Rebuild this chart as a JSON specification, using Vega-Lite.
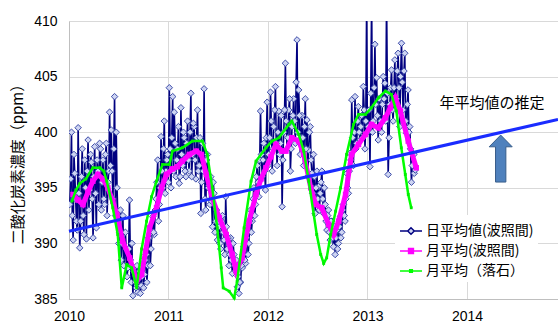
{
 "$schema": "https://vega.github.io/schema/vega-lite/v6.json",
 "width": 489, "height": 278,
 "autosize": {"type": "none"},
 "padding": {"left": 69, "top": 21, "right": 0, "bottom": 24},
 "background": "white",
 "config": {
  "view": {"stroke": null},
  "axis": {"labelFont": "Liberation Sans", "labelFontSize": 14, "labelColor": "#000", "ticks": false, "domainColor": "#bfbfbf", "gridColor": "#d9d9d9", "gridWidth": 1}
 },
 "datasets": {
  "daily": [
{"t":2010.008,"v":393.5},{"t":2010.025,"v":400.0},{"t":2010.042,"v":390.3},{"t":2010.058,"v":396.3},{"t":2010.075,"v":392.0},
{"t":2010.092,"v":400.4},{"t":2010.108,"v":389.6},{"t":2010.125,"v":396.0},{"t":2010.142,"v":392.5},{"t":2010.158,"v":397.5},
{"t":2010.175,"v":390.4},{"t":2010.192,"v":399.3},{"t":2010.208,"v":394.8},{"t":2010.225,"v":397.3},{"t":2010.242,"v":390.5},
{"t":2010.258,"v":398.7},{"t":2010.275,"v":391.4},{"t":2010.292,"v":396.5},{"t":2010.308,"v":399.0},{"t":2010.325,"v":393.0},
{"t":2010.342,"v":397.5},{"t":2010.358,"v":393.5},{"t":2010.375,"v":399.0},{"t":2010.392,"v":395.5},{"t":2010.408,"v":401.8},
{"t":2010.425,"v":400.2},{"t":2010.442,"v":394.0},{"t":2010.458,"v":403.2},{"t":2010.475,"v":400.0},{"t":2010.492,"v":392.0},
{"t":2010.508,"v":391.0},{"t":2010.525,"v":388.5},{"t":2010.542,"v":392.5},{"t":2010.558,"v":388.0},{"t":2010.575,"v":389.5},
{"t":2010.592,"v":387.8},{"t":2010.608,"v":393.9},{"t":2010.625,"v":386.5},{"t":2010.642,"v":385.3},{"t":2010.658,"v":387.5},
{"t":2010.675,"v":386.0},{"t":2010.692,"v":385.6},{"t":2010.708,"v":387.5},{"t":2010.725,"v":386.2},{"t":2010.742,"v":388.5},
{"t":2010.758,"v":387.2},{"t":2010.775,"v":389.0},{"t":2010.792,"v":388.0},{"t":2010.808,"v":390.5},{"t":2010.825,"v":389.5},
{"t":2010.842,"v":392.4},{"t":2010.858,"v":390.8},{"t":2010.875,"v":394.0},{"t":2010.892,"v":397.5},{"t":2010.908,"v":393.5},
{"t":2010.925,"v":399.6},{"t":2010.942,"v":395.0},{"t":2010.958,"v":401.0},{"t":2010.975,"v":396.5},{"t":2010.992,"v":398.0},
{"t":2011.008,"v":404.0},{"t":2011.025,"v":395.0},{"t":2011.042,"v":403.2},{"t":2011.058,"v":401.8},{"t":2011.075,"v":396.0},
{"t":2011.092,"v":398.5},{"t":2011.108,"v":395.4},{"t":2011.125,"v":402.2},{"t":2011.142,"v":397.0},{"t":2011.158,"v":399.5},
{"t":2011.175,"v":396.0},{"t":2011.192,"v":401.0},{"t":2011.208,"v":396.5},{"t":2011.225,"v":403.5},{"t":2011.242,"v":398.0},
{"t":2011.258,"v":400.5},{"t":2011.275,"v":395.8},{"t":2011.292,"v":402.0},{"t":2011.308,"v":397.0},{"t":2011.325,"v":392.7},
{"t":2011.342,"v":399.0},{"t":2011.358,"v":403.9},{"t":2011.375,"v":393.0},{"t":2011.392,"v":398.0},{"t":2011.408,"v":395.2},
{"t":2011.425,"v":396.0},{"t":2011.442,"v":391.5},{"t":2011.458,"v":394.5},{"t":2011.475,"v":392.0},{"t":2011.492,"v":390.3},
{"t":2011.508,"v":391.5},{"t":2011.525,"v":389.5},{"t":2011.542,"v":392.5},{"t":2011.558,"v":390.3},{"t":2011.575,"v":394.2},
{"t":2011.592,"v":389.5},{"t":2011.608,"v":388.0},{"t":2011.625,"v":390.5},{"t":2011.642,"v":387.3},{"t":2011.658,"v":389.0},
{"t":2011.675,"v":387.5},{"t":2011.692,"v":386.1},{"t":2011.708,"v":385.5},{"t":2011.725,"v":386.5},{"t":2011.742,"v":387.8},
{"t":2011.758,"v":389.7},{"t":2011.775,"v":388.2},{"t":2011.792,"v":391.5},{"t":2011.808,"v":390.0},{"t":2011.825,"v":393.0},
{"t":2011.842,"v":392.0},{"t":2011.858,"v":395.0},{"t":2011.875,"v":393.5},{"t":2011.892,"v":397.0},{"t":2011.908,"v":394.2},
{"t":2011.925,"v":401.9},{"t":2011.942,"v":396.0},{"t":2011.958,"v":399.0},{"t":2011.975,"v":394.8},{"t":2011.992,"v":402.7},
{"t":2012.008,"v":398.0},{"t":2012.025,"v":403.6},{"t":2012.042,"v":396.5},{"t":2012.058,"v":400.5},{"t":2012.075,"v":404.1},
{"t":2012.092,"v":397.0},{"t":2012.108,"v":401.9},{"t":2012.125,"v":399.0},{"t":2012.142,"v":393.3},{"t":2012.158,"v":400.0},
{"t":2012.175,"v":406.2},{"t":2012.192,"v":398.5},{"t":2012.208,"v":402.0},{"t":2012.225,"v":396.5},{"t":2012.242,"v":400.5},
{"t":2012.258,"v":403.0},{"t":2012.275,"v":399.0},{"t":2012.292,"v":408.3},{"t":2012.308,"v":403.8},{"t":2012.325,"v":398.0},
{"t":2012.342,"v":401.5},{"t":2012.358,"v":397.0},{"t":2012.375,"v":403.0},{"t":2012.392,"v":401.1},{"t":2012.408,"v":398.4},
{"t":2012.425,"v":400.5},{"t":2012.442,"v":396.3},{"t":2012.458,"v":398.0},{"t":2012.475,"v":392.7},{"t":2012.492,"v":396.5},
{"t":2012.508,"v":395.1},{"t":2012.525,"v":394.5},{"t":2012.542,"v":396.5},{"t":2012.558,"v":392.7},{"t":2012.575,"v":393.5},
{"t":2012.592,"v":391.2},{"t":2012.608,"v":393.0},{"t":2012.625,"v":390.3},{"t":2012.642,"v":392.0},{"t":2012.658,"v":389.7},
{"t":2012.675,"v":389.0},{"t":2012.692,"v":391.2},{"t":2012.708,"v":390.0},{"t":2012.725,"v":392.4},{"t":2012.742,"v":391.0},
{"t":2012.758,"v":393.5},{"t":2012.775,"v":392.0},{"t":2012.792,"v":396.3},{"t":2012.808,"v":394.5},{"t":2012.825,"v":398.1},
{"t":2012.842,"v":402.9},{"t":2012.858,"v":397.0},{"t":2012.875,"v":403.2},{"t":2012.892,"v":399.0},{"t":2012.908,"v":402.3},
{"t":2012.925,"v":399.3},{"t":2012.942,"v":401.5},{"t":2012.958,"v":404.1},{"t":2012.975,"v":398.5},{"t":2012.992,"v":412.0},
{"t":2013.008,"v":400.5},{"t":2013.025,"v":396.9},{"t":2013.042,"v":412.0},{"t":2013.058,"v":401.0},{"t":2013.075,"v":407.9},
{"t":2013.092,"v":404.9},{"t":2013.108,"v":399.3},{"t":2013.125,"v":403.0},{"t":2013.142,"v":400.0},{"t":2013.158,"v":405.0},
{"t":2013.175,"v":404.4},{"t":2013.192,"v":412.0},{"t":2013.208,"v":396.2},{"t":2013.225,"v":402.5},{"t":2013.242,"v":405.6},
{"t":2013.258,"v":401.0},{"t":2013.275,"v":406.5},{"t":2013.292,"v":403.0},{"t":2013.308,"v":407.1},{"t":2013.325,"v":400.5},
{"t":2013.342,"v":408.0},{"t":2013.358,"v":402.0},{"t":2013.375,"v":407.1},{"t":2013.392,"v":399.9},{"t":2013.408,"v":403.8},
{"t":2013.425,"v":400.5},{"t":2013.442,"v":395.5},{"t":2013.458,"v":398.1},{"t":2013.470,"v":396.3},{"t":2013.480,"v":396.6},
{"t":2010.017,"v":395.8},{"t":2010.033,"v":392.5},{"t":2010.050,"v":398.0},{"t":2010.067,"v":394.0},{"t":2010.083,"v":391.2},
{"t":2010.100,"v":394.5},{"t":2010.117,"v":392.0},{"t":2010.133,"v":398.5},{"t":2010.150,"v":390.8},{"t":2010.167,"v":395.0},
{"t":2010.183,"v":396.5},{"t":2010.200,"v":393.0},{"t":2010.217,"v":398.0},{"t":2010.233,"v":394.0},{"t":2010.250,"v":396.0},
{"t":2010.267,"v":394.5},{"t":2010.283,"v":397.5},{"t":2010.300,"v":393.5},{"t":2010.317,"v":398.5},{"t":2010.333,"v":395.5},
{"t":2010.350,"v":394.0},{"t":2010.367,"v":398.0},{"t":2010.383,"v":392.5},{"t":2010.400,"v":396.5},{"t":2010.417,"v":397.0},
{"t":2010.433,"v":396.5},{"t":2010.450,"v":398.5},{"t":2010.467,"v":392.5},{"t":2010.483,"v":395.0},{"t":2010.500,"v":390.0},
{"t":2010.517,"v":393.0},{"t":2010.533,"v":390.0},{"t":2010.550,"v":388.0},{"t":2010.567,"v":391.0},{"t":2010.583,"v":387.0},
{"t":2010.600,"v":389.5},{"t":2010.617,"v":388.5},{"t":2010.633,"v":390.0},{"t":2010.650,"v":387.5},{"t":2010.667,"v":386.5},
{"t":2010.683,"v":388.0},{"t":2010.700,"v":386.8},{"t":2010.717,"v":385.5},{"t":2010.733,"v":387.0},{"t":2010.750,"v":386.0},
{"t":2010.767,"v":388.5},{"t":2010.783,"v":386.5},{"t":2010.800,"v":390.5},{"t":2010.817,"v":388.0},{"t":2010.833,"v":391.0},
{"t":2010.850,"v":391.0},{"t":2010.867,"v":393.0},{"t":2010.883,"v":395.5},{"t":2010.900,"v":392.0},{"t":2010.917,"v":395.0},
{"t":2010.933,"v":396.5},{"t":2010.950,"v":398.5},{"t":2010.967,"v":394.5},{"t":2010.983,"v":397.5},{"t":2010.999,"v":395.5},
{"t":2011.017,"v":398.5},{"t":2011.033,"v":399.5},{"t":2011.050,"v":396.5},{"t":2011.067,"v":399.0},{"t":2011.083,"v":397.5},
{"t":2011.100,"v":400.5},{"t":2011.117,"v":396.0},{"t":2011.133,"v":398.0},{"t":2011.150,"v":400.0},{"t":2011.167,"v":396.5},
{"t":2011.183,"v":399.0},{"t":2011.200,"v":397.5},{"t":2011.217,"v":400.0},{"t":2011.233,"v":396.0},{"t":2011.250,"v":400.8},
{"t":2011.267,"v":397.5},{"t":2011.283,"v":399.5},{"t":2011.300,"v":396.5},{"t":2011.317,"v":399.5},{"t":2011.333,"v":395.5},
{"t":2011.350,"v":396.5},{"t":2011.367,"v":394.0},{"t":2011.383,"v":397.5},{"t":2011.400,"v":395.0},{"t":2011.417,"v":393.5},
{"t":2011.433,"v":393.8},{"t":2011.450,"v":395.5},{"t":2011.467,"v":391.0},{"t":2011.483,"v":393.0},{"t":2011.500,"v":392.0},
{"t":2011.517,"v":390.0},{"t":2011.533,"v":392.0},{"t":2011.550,"v":391.0},{"t":2011.567,"v":389.0},{"t":2011.583,"v":391.5},
{"t":2011.600,"v":390.5},{"t":2011.617,"v":389.0},{"t":2011.633,"v":388.5},{"t":2011.650,"v":390.0},{"t":2011.667,"v":388.0},
{"t":2011.683,"v":388.5},{"t":2011.700,"v":387.0},{"t":2011.717,"v":386.5},{"t":2011.733,"v":388.0},{"t":2011.750,"v":389.0},
{"t":2011.767,"v":388.5},{"t":2011.783,"v":390.5},{"t":2011.800,"v":389.0},{"t":2011.817,"v":392.0},{"t":2011.833,"v":391.0},
{"t":2011.850,"v":394.0},{"t":2011.867,"v":392.5},{"t":2011.883,"v":396.0},{"t":2011.900,"v":395.5},{"t":2011.917,"v":397.5},
{"t":2011.933,"v":398.0},{"t":2011.950,"v":397.5},{"t":2011.967,"v":396.5},{"t":2011.983,"v":399.5},{"t":2011.999,"v":397.0},
{"t":2012.017,"v":399.5},{"t":2012.033,"v":401.0},{"t":2012.050,"v":398.5},{"t":2012.067,"v":402.0},{"t":2012.083,"v":399.0},
{"t":2012.100,"v":400.0},{"t":2012.117,"v":398.0},{"t":2012.133,"v":401.5},{"t":2012.150,"v":397.5},{"t":2012.167,"v":402.0},
{"t":2012.183,"v":401.0},{"t":2012.200,"v":399.5},{"t":2012.217,"v":403.0},{"t":2012.233,"v":398.5},{"t":2012.250,"v":401.5},
{"t":2012.267,"v":401.0},{"t":2012.283,"v":404.5},{"t":2012.300,"v":400.0},{"t":2012.317,"v":401.5},{"t":2012.333,"v":399.5},
{"t":2012.350,"v":399.5},{"t":2012.367,"v":400.5},{"t":2012.383,"v":398.5},{"t":2012.400,"v":396.0},{"t":2012.417,"v":400.0},
{"t":2012.433,"v":397.5},{"t":2012.450,"v":394.5},{"t":2012.467,"v":396.0},{"t":2012.483,"v":395.0},{"t":2012.500,"v":394.0},
{"t":2012.517,"v":393.0},{"t":2012.533,"v":395.5},{"t":2012.550,"v":394.0},{"t":2012.567,"v":395.0},{"t":2012.583,"v":392.0},
{"t":2012.600,"v":392.5},{"t":2012.617,"v":391.0},{"t":2012.633,"v":392.0},{"t":2012.650,"v":390.5},{"t":2012.667,"v":391.5},
{"t":2012.683,"v":390.5},{"t":2012.700,"v":389.5},{"t":2012.717,"v":391.5},{"t":2012.733,"v":390.5},{"t":2012.750,"v":393.0},
{"t":2012.767,"v":392.5},{"t":2012.783,"v":394.0},{"t":2012.800,"v":395.0},{"t":2012.817,"v":396.5},{"t":2012.833,"v":397.5},
{"t":2012.850,"v":399.5},{"t":2012.867,"v":400.0},{"t":2012.883,"v":398.5},{"t":2012.900,"v":401.0},{"t":2012.917,"v":400.0},
{"t":2012.933,"v":400.5},{"t":2012.950,"v":399.5},{"t":2012.967,"v":402.0},{"t":2012.983,"v":401.0},{"t":2012.999,"v":400.0},
{"t":2013.017,"v":402.0},{"t":2013.033,"v":403.5},{"t":2013.050,"v":400.0},{"t":2013.067,"v":404.0},{"t":2013.083,"v":402.5},
{"t":2013.100,"v":401.5},{"t":2013.117,"v":403.0},{"t":2013.133,"v":401.0},{"t":2013.150,"v":402.5},{"t":2013.167,"v":403.0},
{"t":2013.183,"v":401.0},{"t":2013.200,"v":403.5},{"t":2013.217,"v":399.5},{"t":2013.233,"v":404.0},{"t":2013.250,"v":402.0},
{"t":2013.267,"v":404.0},{"t":2013.283,"v":402.5},{"t":2013.300,"v":405.5},{"t":2013.317,"v":404.0},{"t":2013.333,"v":405.0},
{"t":2013.350,"v":404.5},{"t":2013.367,"v":405.5},{"t":2013.383,"v":401.0},{"t":2013.400,"v":402.5},{"t":2013.417,"v":400.0},
{"t":2013.433,"v":398.5},{"t":2013.450,"v":397.0},{"t":2013.467,"v":398.0}
  ],
  "mag": [
{"t":2010.04,"v":394.4},{"t":2010.09,"v":393.9},{"t":2010.14,"v":393.5},{"t":2010.19,"v":394.6},{"t":2010.24,"v":395.6},{"t":2010.29,"v":396.2},{"t":2010.34,"v":395.8},{"t":2010.39,"v":395.0},{"t":2010.44,"v":393.8},{"t":2010.48,"v":392.6},{"t":2010.54,"v":390.2},{"t":2010.61,"v":388.7},{"t":2010.68,"v":386.6},{"t":2010.73,"v":387.2},{"t":2010.77,"v":389.3},{"t":2010.81,"v":391.4},{"t":2010.88,"v":393.2},{"t":2010.93,"v":395.0},{"t":2010.98,"v":396.2},
{"t":2011.04,"v":396.7},{"t":2011.09,"v":396.9},{"t":2011.14,"v":397.4},{"t":2011.21,"v":398.0},{"t":2011.28,"v":398.3},{"t":2011.33,"v":398.0},{"t":2011.38,"v":396.2},{"t":2011.44,"v":394.1},{"t":2011.51,"v":392.3},{"t":2011.58,"v":390.8},{"t":2011.64,"v":389.0},{"t":2011.68,"v":387.5},{"t":2011.74,"v":388.7},{"t":2011.81,"v":392.0},{"t":2011.88,"v":394.4},{"t":2011.93,"v":395.8},{"t":2011.98,"v":396.8},
{"t":2012.03,"v":397.8},{"t":2012.08,"v":398.9},{"t":2012.14,"v":398.3},{"t":2012.18,"v":398.3},{"t":2012.24,"v":399.5},{"t":2012.31,"v":399.2},{"t":2012.36,"v":398.0},{"t":2012.43,"v":395.0},{"t":2012.48,"v":393.5},{"t":2012.54,"v":393.2},{"t":2012.61,"v":391.7},{"t":2012.66,"v":390.8},{"t":2012.71,"v":392.0},{"t":2012.78,"v":394.4},{"t":2012.84,"v":398.0},{"t":2012.91,"v":398.9},{"t":2012.98,"v":399.8},
{"t":2013.04,"v":400.7},{"t":2013.11,"v":400.4},{"t":2013.18,"v":401.3},{"t":2013.23,"v":402.2},{"t":2013.28,"v":403.1},{"t":2013.33,"v":401.9},{"t":2013.41,"v":399.2},{"t":2013.49,"v":396.8}
  ],
  "grn": [
{"t":2010.03,"v":393.8},{"t":2010.07,"v":394.8},{"t":2010.11,"v":395.4},{"t":2010.17,"v":395.8},{"t":2010.24,"v":396.8},{"t":2010.31,"v":396.8},{"t":2010.35,"v":396.5},{"t":2010.38,"v":395.6},{"t":2010.44,"v":393.2},{"t":2010.49,"v":390.8},{"t":2010.53,"v":386.0},{"t":2010.58,"v":388.1},{"t":2010.63,"v":387.8},{"t":2010.68,"v":386.0},{"t":2010.73,"v":389.5},{"t":2010.78,"v":392.0},{"t":2010.83,"v":394.2},{"t":2010.88,"v":395.6},{"t":2010.94,"v":397.1},
{"t":2011.01,"v":397.1},{"t":2011.04,"v":398.3},{"t":2011.14,"v":398.6},{"t":2011.24,"v":399.2},{"t":2011.34,"v":399.2},{"t":2011.39,"v":398.0},{"t":2011.44,"v":395.0},{"t":2011.49,"v":391.4},{"t":2011.53,"v":387.8},{"t":2011.55,"v":386.0},{"t":2011.61,"v":385.7},{"t":2011.66,"v":385.1},{"t":2011.69,"v":386.6},{"t":2011.76,"v":391.4},{"t":2011.83,"v":395.6},{"t":2011.88,"v":397.4},{"t":2011.98,"v":398.6},
{"t":2012.04,"v":399.2},{"t":2012.11,"v":399.5},{"t":2012.21,"v":400.7},{"t":2012.24,"v":401.0},{"t":2012.31,"v":399.8},{"t":2012.36,"v":398.3},{"t":2012.41,"v":395.6},{"t":2012.46,"v":392.6},{"t":2012.49,"v":390.8},{"t":2012.53,"v":389.0},{"t":2012.56,"v":388.2},{"t":2012.59,"v":388.7},{"t":2012.63,"v":390.8},{"t":2012.68,"v":392.9},{"t":2012.73,"v":395.0},{"t":2012.79,"v":398.0},{"t":2012.86,"v":400.7},{"t":2012.91,"v":401.6},{"t":2012.98,"v":401.6},
{"t":2013.04,"v":402.2},{"t":2013.11,"v":403.1},{"t":2013.18,"v":403.7},{"t":2013.24,"v":403.4},{"t":2013.29,"v":401.9},{"t":2013.34,"v":398.6},{"t":2013.38,"v":396.2},{"t":2013.41,"v":394.4},{"t":2013.44,"v":393.2}
  ],
  "trend": [{"t":2010.0,"v":391.1},{"t":2014.915,"v":401.15}],
  "note": [{"t":2014.251,"v":402.65,"label":"年平均値の推定"}],
  "arrow": [{"t":2014.339,"v":397.63}]
 },
 "encoding": {
  "x": {"field": "t", "type": "quantitative", "scale": {"domain": [2010, 2014.915], "nice": false, "zero": false},
        "axis": {"values": [2010, 2011, 2012, 2013, 2014], "format": "d", "title": null, "labelPadding": 10, "labelFlush": false, "grid": true}},
  "y": {"field": "v", "type": "quantitative", "scale": {"domain": [385, 410], "nice": false, "zero": false},
        "axis": {"values": [385, 390, 395, 400, 405, 410], "title": "二酸化炭素濃度（ppm）", "titleFont": "Noto Sans CJK JP", "titleFontSize": 15, "titleFontWeight": "normal", "titleColor": "#000", "titleX": -52, "titleY": 139, "titleAngle": -90, "titleAlign": "center", "titleBaseline": "middle", "labelPadding": 12, "grid": true}}
 },
 "layer": [
  {"data": {"name": "daily"}, "mark": {"type": "line", "strokeWidth": 1.6, "clip": true},
   "encoding": {"color": {"datum": "日平均値(波照間)", "type": "nominal",
     "scale": {"domain": ["日平均値(波照間)", "月平均(波照間)", "月平均（落石）"], "range": ["#000080", "#ff00ff", "#00ff00"]},
     "legend": {"title": null, "orient": "none", "legendX": 326, "legendY": 194, "fillColor": "white", "padding": 4,
       "labelFont": "Noto Sans CJK JP", "labelFontSize": 14, "labelColor": "#000", "labelOffset": 3,
       "symbolSize": 484, "rowPadding": 1, "symbolStrokeWidth": 1.5,
       "encode": {"symbols": {"update": {
         "shape": {"signal": "datum.index === 0 ? 'M-1,0H-0.3M0.3,0H1M-0.3,0L0,-0.3L0.3,0L0,0.3Z' : datum.index === 1 ? 'M-1,0H-0.22M0.22,0H1M-0.22,-0.22H0.22V0.22H-0.22Z' : 'M-1,0H1M-0.12,-0.12H0.12V0.12H-0.12Z'"},
         "fill": {"signal": "datum.index === 0 ? '#d0d6f4' : datum.index === 1 ? '#ff00ff' : '#00ff00'"},
         "fillOpacity": {"value": 1}
       }}}}}}},
  {"data": {"name": "daily"}, "mark": {"type": "point", "shape": "diamond", "filled": true, "fill": "#cdd4f2", "stroke": "#3b4aa8", "strokeWidth": 1, "size": 42, "opacity": 1, "clip": true}, "encoding": {}},
  {"data": {"name": "mag"}, "mark": {"type": "line", "strokeWidth": 5},
   "encoding": {"color": {"datum": "月平均(波照間)", "type": "nominal"}}},
  {"data": {"name": "mag"}, "mark": {"type": "square", "size": 30, "color": "#ff00ff", "opacity": 1}, "encoding": {}},
  {"data": {"name": "grn"}, "mark": {"type": "line", "strokeWidth": 2.5},
   "encoding": {"color": {"datum": "月平均（落石）", "type": "nominal"}}},
  {"data": {"name": "grn"}, "mark": {"type": "square", "size": 8, "color": "#00ee00", "opacity": 1}, "encoding": {}},
  {"data": {"name": "trend"}, "mark": {"type": "line", "strokeWidth": 3, "color": "#1a2cff"}, "encoding": {}},
  {"data": {"name": "note"}, "mark": {"type": "text", "font": "Noto Sans CJK JP", "fontSize": 15, "align": "center", "baseline": "middle", "color": "#000"},
   "encoding": {"text": {"field": "label"}}},
  {"data": {"name": "arrow"}, "mark": {"type": "point", "shape": "M0,-1L0.49,-0.5L0.22,-0.5L0.22,1L-0.22,1L-0.22,-0.5L-0.49,-0.5Z", "size": 2209, "filled": true, "fill": "#4f81bd", "stroke": "#385d8a", "strokeWidth": 1, "opacity": 1}, "encoding": {}}
 ]
}
